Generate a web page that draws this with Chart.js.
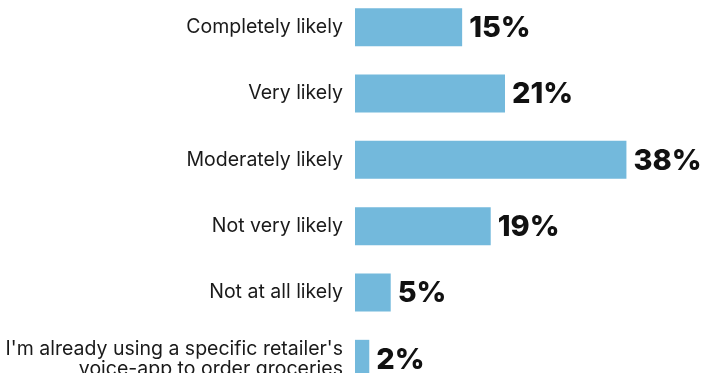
<!DOCTYPE html>
<html>
<head>
<meta charset="utf-8">
<title>Likelihood of ordering groceries by voice</title>
<script src="https://cdn.jsdelivr.net/npm/chart.js@4.4.1/dist/chart.umd.min.js"></script>
<style>
    html, body {
        margin: 0;
        padding: 0;
        background: #ffffff;
        overflow: hidden;
        width: 705px;
        height: 373px;
    }
    #quadro {
        position: absolute;
        left: 0;
        top: -6px;
        width: 705px;
        height: 398px;
    }
</style>
</head>
<body>
<div id="quadro">
    <canvas id="graficoVoz"></canvas>
</div>
<script>
const categorias = [
    'Completely likely',
    'Very likely',
    'Moderately likely',
    'Not very likely',
    'Not at all likely',
    ["I'm already using a specific retailer's", 'voice-app to order groceries']
];
const percentuais = [15, 21, 38, 19, 5, 2];

const corBarra = '#73b9dc';

// escreve o percentual ao lado de cada barra
const rotuloValor = {
    id: 'rotuloValor',
    afterDatasetsDraw(chart) {
        const ctx = chart.ctx;
        const meta = chart.getDatasetMeta(0);
        ctx.save();
        ctx.font = '800 29px Inter, Lato, sans-serif';
        ctx.fillStyle = '#111111';
        ctx.textAlign = 'left';
        ctx.textBaseline = 'middle';
        meta.data.forEach((barra, i) => {
            ctx.fillText(percentuais[i] + '%', barra.x + 7, barra.y + 1);
        });
        ctx.restore();
    }
};

const canva = document.getElementById('graficoVoz').getContext('2d');
const grafico = new Chart(canva, {
    type: 'bar',
    data: {
        labels: categorias,
        datasets: [{
            data: percentuais,
            backgroundColor: corBarra,
            borderWidth: 0,
            categoryPercentage: 1,
            barPercentage: 0.573
        }]
    },
    options: {
        indexAxis: 'y',
        responsive: true,
        maintainAspectRatio: false,
        animation: false,
        layout: { padding: 0 },
        plugins: {
            legend: { display: false },
            tooltip: { enabled: false }
        },
        scales: {
            x: {
                display: false,
                min: 0,
                max: 49
            },
            y: {
                grid: { display: false, drawTicks: false },
                border: { display: false },
                ticks: {
                    color: '#1a1a1a',
                    padding: 12,
                    font: { family: 'Inter, Lato, sans-serif', size: 19.5, lineHeight: 1.03 }
                },
                afterFit(scale) {
                    // largura fixa da coluna de rótulos e sem folga em cima/embaixo
                    scale.width = 355;
                    scale.paddingTop = 0;
                    scale.paddingBottom = 0;
                }
            }
        }
    },
    plugins: [rotuloValor]
});
</script>
</body>
</html>
